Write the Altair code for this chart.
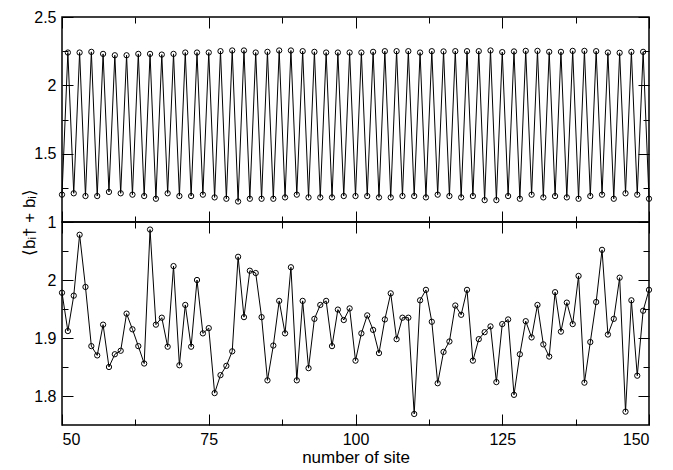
import altair as alt
import pandas as pd

# ---- data ----
sites = list(range(50, 151))

# top panel: even sites (low branch) and odd sites (high branch)
top_even = [1.20, 1.21, 1.19, 1.19, 1.22, 1.21, 1.20, 1.19, 1.17, 1.21,
            1.19, 1.19, 1.20, 1.18, 1.17, 1.15, 1.17, 1.17, 1.17, 1.18,
            1.20, 1.18, 1.18, 1.18, 1.19, 1.19, 1.19, 1.18, 1.18, 1.19,
            1.19, 1.18, 1.20, 1.19, 1.18, 1.19, 1.16, 1.16, 1.19, 1.17,
            1.20, 1.18, 1.19, 1.18, 1.17, 1.19, 1.20, 1.17, 1.21, 1.20,
            1.17]
top_odd = [2.24, 2.24, 2.245, 2.23, 2.22, 2.22, 2.23, 2.23, 2.225, 2.23,
           2.24, 2.24, 2.24, 2.25, 2.255, 2.255, 2.24, 2.245, 2.255, 2.255,
           2.25, 2.245, 2.24, 2.24, 2.24, 2.24, 2.245, 2.25, 2.25, 2.25,
           2.24, 2.25, 2.248, 2.25, 2.25, 2.25, 2.255, 2.243, 2.248, 2.252,
           2.252, 2.245, 2.245, 2.252, 2.252, 2.25, 2.24, 2.238, 2.245, 2.245]

bottom_vals = [1.978, 1.912, 1.973, 2.078, 1.988, 1.886, 1.870, 1.923, 1.850, 1.872,
               1.878, 1.942, 1.915, 1.886, 1.856, 2.087, 1.923, 1.935, 1.885, 2.024,
               1.853, 1.957, 1.885, 2.000, 1.908, 1.917, 1.805, 1.836, 1.852, 1.877,
               2.040, 1.936, 2.016, 2.012, 1.936, 1.827, 1.887, 1.964, 1.908, 2.022,
               1.827, 1.964, 1.848, 1.933, 1.957, 1.964, 1.886, 1.949, 1.931, 1.951,
               1.861, 1.908, 1.939, 1.914, 1.874, 1.932, 1.977, 1.898, 1.935, 1.935,
               1.769, 1.965, 1.983, 1.928, 1.822, 1.876, 1.894, 1.956, 1.940, 1.983,
               1.861, 1.898, 1.910, 1.920, 1.824, 1.924, 1.932, 1.802, 1.872, 1.929,
               1.901, 1.957, 1.889, 1.868, 1.979, 1.911, 1.961, 1.924, 2.007, 1.823,
               1.893, 1.962, 2.052, 1.906, 1.933, 2.004, 1.773, 1.965, 1.835, 1.947,
               1.983]

x_major = [50, 75, 100, 125, 150]
x_minor = [62.5, 87.5, 112.5, 137.5]
top_major = [1, 1.5, 2, 2.5]
top_minor = [1.25, 1.75, 2.25]
bot_major = [1.8, 1.9, 2.0]
bot_minor = [1.85, 1.95, 2.05]

top_vals = []
for i in range(len(top_odd)):
    top_vals.append(top_even[i])
    top_vals.append(top_odd[i])
top_vals.append(top_even[-1])

df = pd.DataFrame({"site": sites, "top": top_vals, "bottom": bottom_vals})

FONT = "Liberation Sans"
MAJ = 11
MIN = 6


def ax(orient, vals, size, labels=False, **kw):
    return alt.Axis(orient=orient, values=vals, tickSize=size, offset=-size,
                    domain=False, grid=False, labels=labels, ticks=True,
                    tickColor="black", tickWidth=1,
                    labelFontSize=16, labelFont=FONT, labelColor="black",
                    labelPadding=6, labelExpr="'' + datum.value", **kw)


def panel(col, dom, ymaj, ymin, h, bottom):
    xs = alt.Scale(domain=[50, 150], nice=False)
    ys = alt.Scale(domain=dom, nice=False, zero=False)
    base = alt.Chart(df)
    if bottom:
        xax = ax("bottom", x_major, MAJ, labels=True, title="number of site",
                 titleFontSize=17, titleFont=FONT, titleFontWeight="normal",
                 titleColor="black", titlePadding=2)
    else:
        xax = ax("bottom", x_major, MAJ, title=None)
    if not bottom:
        yax = ax("left", ymaj, MAJ, labels=True, title="⟨bᵢ† + bᵢ⟩",
                 titleFontSize=17, titleFont=FONT, titleFontWeight="normal",
                 titleColor="black", titleX=-44, titleY=h, titleAlign="center",
                 titleAngle=270, titleBaseline="middle")
    else:
        yax = ax("left", ymaj, MAJ, labels=True, title=None)

    main = base.mark_line(
        color="black", strokeWidth=1,
        point=alt.OverlayMarkDef(shape="circle", filled=False, size=28,
                                 color="black", strokeWidth=1),
    ).encode(x=alt.X("site:Q", scale=xs, axis=xax),
             y=alt.Y(col + ":Q", scale=ys, axis=yax))

    def ghost(xo, xv, xsz, yo, yv, ysz):
        return base.mark_point(opacity=0).encode(
            x=alt.X("site:Q", scale=xs, axis=ax(xo, xv, xsz, title=None)),
            y=alt.Y(col + ":Q", scale=ys, axis=ax(yo, yv, ysz, title=None)))

    g1 = ghost("top", x_major, MAJ, "right", ymaj, MAJ)
    g2 = ghost("bottom", x_minor, MIN, "left", ymin, MIN)
    g3 = ghost("top", x_minor, MIN, "right", ymin, MIN)

    return alt.layer(main, g1, g2, g3).resolve_axis(
        x="independent", y="independent").properties(width=587, height=h)


top = panel("top", [1, 2.5], top_major, top_minor, 205, False)
bot = panel("bottom", [1.75, 2.1], bot_major, bot_minor, 203, True)

chart = alt.vconcat(top, bot, spacing=0, bounds="flush").properties(
    padding={"left": 11, "top": 0, "right": 5, "bottom": 0}
).configure_view(stroke="black", strokeWidth=1.5)

chart.save("out.html", embed_options={"renderer": "svg", "actions": False})
